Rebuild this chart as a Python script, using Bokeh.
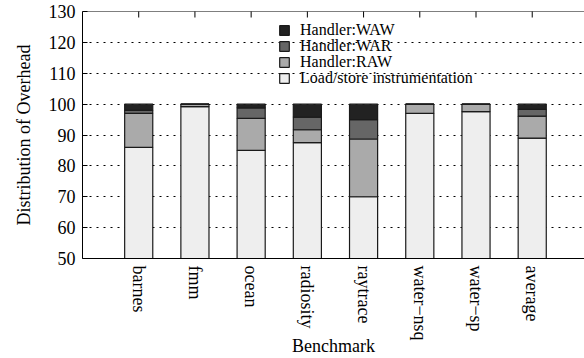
import math
from bokeh.plotting import figure
from bokeh.models import Range1d, FixedTicker, Legend, LegendItem, ColumnDataSource, Span
from bokeh.embed import file_html
from bokeh.resources import INLINE

benchmarks = ["barnes", "fmm", "ocean", "radiosity", "raytrace", "water\u2212nsq", "water\u2212sp", "average"]
load_store = [86.0, 99.2, 85.0, 87.5, 70.0, 97.0, 97.6, 89.0]
handler_raw = [11.0, 0.8, 10.4, 4.2, 18.7, 3.0, 2.4, 7.1]
handler_war = [1.0, 0.0, 3.4, 4.1, 6.3, 0.0, 0.0, 2.2]
handler_waw = [2.0, 0.0, 1.2, 4.2, 5.0, 0.0, 0.0, 1.7]
y_ticks = [50, 60, 70, 80, 90, 100, 110, 120, 130]

series_keys = ["load", "raw", "war", "waw"]
series_names = ["Load/store instrumentation", "Handler:RAW", "Handler:WAR", "Handler:WAW"]
colors = ["#eeeeee", "#aaaaaa", "#666666", "#222222"]

xs = list(range(len(benchmarks)))
src = ColumnDataSource(dict(x=xs, load=load_store, raw=handler_raw, war=handler_war, waw=handler_waw))

FONT = "Liberation Serif"

p = figure(width=584, height=358, output_backend="svg", toolbar_location=None,
           x_range=Range1d(-1, 7.93), y_range=Range1d(y_ticks[0], y_ticks[-1]))
p.min_border_left = 82
p.min_border_right = 0
p.min_border_top = 11
p.min_border_bottom = 96
p.outline_line_color = None
p.background_fill_color = "white"
p.border_fill_color = "white"

renderers = p.vbar_stack(series_keys, x="x", width=0.5, source=src, fill_color=colors,
                         line_color="#1a1a1a", line_width=1.2)

# grid
p.xgrid.visible = False
p.ygrid.ticker = FixedTicker(ticks=y_ticks[1:-1])
p.ygrid.grid_line_color = "#000000"
p.ygrid.grid_line_dash = "2 5"
p.ygrid.grid_line_width = 1

# left axis
ya = p.yaxis[0]
ya.ticker = FixedTicker(ticks=y_ticks)
ya.major_tick_in = 5
ya.major_tick_out = 0
ya.minor_tick_in = 0
ya.minor_tick_out = 0
ya.major_label_standoff = 7
ya.major_label_text_font = FONT
ya.major_label_text_font_size = "18px"
ya.major_label_text_color = "black"
ya.axis_line_color = "black"
ya.major_tick_line_color = "black"
ya.axis_label = "Distribution of Overhead"
ya.axis_label_text_font = FONT
ya.axis_label_text_font_size = "18px"
ya.axis_label_text_font_style = "normal"
ya.axis_label_text_color = "black"
ya.axis_label_standoff = 12

# bottom axis
xa = p.xaxis[0]
xa.ticker = FixedTicker(ticks=xs)
xa.major_label_overrides = {i: b for i, b in enumerate(benchmarks)}
xa.major_label_orientation = "vertical"
xa.major_tick_in = 0
xa.major_tick_out = 0
xa.minor_tick_in = 0
xa.minor_tick_out = 0
xa.major_label_standoff = 7
xa.major_label_text_font = FONT
xa.major_label_text_font_size = "18px"
xa.major_label_text_color = "black"
xa.axis_line_color = "black"
xa.axis_label = "Benchmark"
xa.axis_label_text_font = FONT
xa.axis_label_text_font_size = "18px"
xa.axis_label_text_font_style = "normal"
xa.axis_label_text_color = "black"
xa.axis_label_standoff = -8

# top border line with inward ticks at the categories
p.add_layout(Span(location=y_ticks[-1], dimension="width", line_color="black", line_width=1))
p.scatter(x=xs, y=[y_ticks[-1]] * len(xs), marker="dash", angle=math.pi / 2, size=12,
          line_color="black", line_width=1)

# legend: one entry per legend box so the rows can sit 16px apart
for row, i in enumerate([0, 1, 2, 3]):
    lg = Legend(items=[LegendItem(label=series_names[i], renderers=[renderers[i]])],
                location=(196, 171 + 16 * row))
    lg.background_fill_alpha = 0
    lg.border_line_color = None
    lg.padding = 0
    lg.margin = 0
    lg.spacing = 0
    lg.glyph_width = 12
    lg.glyph_height = 12
    lg.label_standoff = 10
    lg.label_height = 12
    lg.label_text_font = FONT
    lg.label_text_font_size = "16px"
    lg.label_text_color = "black"
    lg.label_text_line_height = 1.0
    p.add_layout(lg)

open("out.html", "w").write(file_html(p, INLINE))
